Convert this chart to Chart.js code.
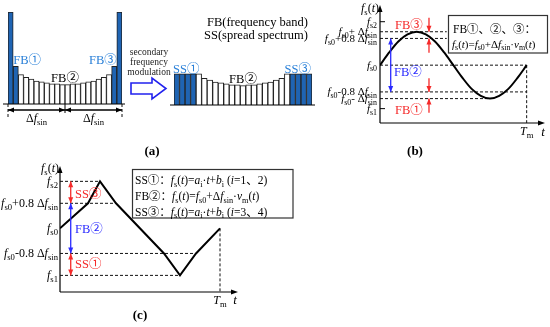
<!DOCTYPE html>
<html>
<head>
<meta charset="utf-8">
<script src="https://cdn.jsdelivr.net/npm/chart.js@4"></script>
<style>
body { margin: 0; background: #fff; }
#wrap { position: relative; width: 550px; height: 327px; overflow: hidden; background: #fff; }
canvas { position: absolute; }
.cap { position: absolute; font: bold 13px 'Liberation Serif', serif; transform: translate(-50%, -50%); }
</style>
</head>
<body>
<div id="wrap">
	<canvas id="chartA1" width="172" height="140" style="left:0;top:0"></canvas>
	<canvas id="chartA2" width="150" height="140" style="left:170px;top:0"></canvas>
	<canvas id="chartB" width="280" height="140" style="left:270px;top:0"></canvas>
	<canvas id="chartC" width="300" height="150" style="left:0;top:160px"></canvas>
	<div class="cap" style="left:152px;top:151px">(a)</div>
	<div class="cap" style="left:415px;top:151px">(b)</div>
	<div class="cap" style="left:140px;top:315px">(c)</div>
</div>
<script>
// (a) left: spectrum before secondary modulation
const fbBands = ['FB①', 'FB①', 'FB②', 'FB②', 'FB②', 'FB②', 'FB②', 'FB②', 'FB②', 'FB②', 'FB②',
	'FB②', 'FB②', 'FB②', 'FB②', 'FB②', 'FB②', 'FB②', 'FB②', 'FB②', 'FB③', 'FB③'];
const fbHeights = [100, 41, 32, 29, 27, 25, 24, 23, 22, 22, 21, 21, 22, 22, 23, 24, 25, 27, 29, 32, 41, 100];

// (a) right: spectrum after secondary modulation
const ssBands = ['SS①', 'SS①', 'SS①', 'SS①', 'FB②', 'FB②', 'FB②', 'FB②', 'FB②', 'FB②', 'FB②', 'FB②', 'FB②',
	'FB②', 'FB②', 'FB②', 'FB②', 'FB②', 'FB②', 'FB②', 'FB②', 'SS③', 'SS③', 'SS③', 'SS③'];
const ssHeights = [34, 34, 34, 34, 34, 29, 27, 25, 24, 23, 22, 22, 21, 22, 22, 23, 24, 25, 27, 29, 34, 34, 34, 34, 34];

// (b) sinusoidal modulation, t in units of Tm, f in units of Δf_sin around f_s0
const sineT = [0, 0.0625, 0.125, 0.1875, 0.25, 0.3125, 0.375, 0.4375, 0.5, 0.5625, 0.625, 0.6875, 0.75, 0.8125, 0.875, 0.9375, 1];
const sineF = [0, 0.38, 0.71, 0.92, 1, 0.92, 0.71, 0.38, 0, -0.38, -0.71, -0.92, -1, -0.92, -0.71, -0.38, 0];
const bLevels = [1.3, 1, 0.8, 0, -0.8, -1, -1.3];
const bLabels = ['f_{s2}', 'f_{s0}+ Δf_{sin}', 'f_{s0}+0.8 Δf_{sin}', 'f_{s0}', 'f_{s0}-0.8 Δf_{sin}', 'f_{s0}- Δf_{sin}', 'f_{s1}'];

// (c) piecewise-linear modulation
const triT = [0, 0.175, 0.25, 0.35, 0.65, 0.75, 0.85, 1];
const triF = [0, 0.8, 1.5, 0.8, -0.8, -1.5, -0.8, 0];
const cLevels = [1.5, 0.8, 0, -0.8, -1.5];
const cLabels = ['f_{s2}', 'f_{s0}+0.8 Δf_{sin}', 'f_{s0}', 'f_{s0}-0.8 Δf_{sin}', 'f_{s1}'];

const FAM = "'Liberation Serif', 'Noto Sans CJK SC', serif";
const BAR_BLUE = '#1f64b3';
const TXT_BLUE = '#2a80d8';
const RED = '#f52a2a';
const BLUE = '#2a2aff';

// rich text: letters italic, _{..} subscript, `..` plain
function runs(str) {
	const out = [];
	let i = 0;
	while (i < str.length) {
		if (str[i] === '_' && str[i + 1] === '{') {
			const j = str.indexOf('}', i);
			out.push({ t: str.slice(i + 2, j), sub: true, it: false });
			i = j + 1;
			continue;
		}
		if (str[i] === '`') {
			const j = str.indexOf('`', i + 1);
			out.push({ t: str.slice(i + 1, j), sub: false, it: false });
			i = j + 1;
			continue;
		}
		out.push({ t: str[i], sub: false, it: /[A-Za-z]/.test(str[i]) });
		i++;
	}
	return out;
}

function drawRich(ctx, str, x, y, size, color, align) {
	const rs = runs(str);
	const font = r => (r.it ? 'italic ' : '') + (r.sub ? size * 0.72 : size) + 'px ' + FAM;
	let w = 0;
	rs.forEach(r => { ctx.font = font(r); r.w = ctx.measureText(r.t).width; w += r.w; });
	let cx = align === 'right' ? x - w : align === 'center' ? x - w / 2 : x;
	ctx.fillStyle = color;
	ctx.textBaseline = 'alphabetic';
	rs.forEach(r => {
		ctx.font = font(r);
		ctx.fillText(r.t, cx, y + (r.sub ? size * 0.25 : 0));
		cx += r.w;
	});
}

function head(ctx, x, y, ang, len, wid) {
	ctx.beginPath();
	ctx.moveTo(x, y);
	ctx.lineTo(x - len * Math.cos(ang) + wid * Math.sin(ang), y - len * Math.sin(ang) - wid * Math.cos(ang));
	ctx.lineTo(x - len * Math.cos(ang) - wid * Math.sin(ang), y - len * Math.sin(ang) + wid * Math.cos(ang));
	ctx.closePath();
	ctx.fill();
}

function arrow(ctx, x1, y1, x2, y2, color, both) {
	const ang = Math.atan2(y2 - y1, x2 - x1);
	ctx.strokeStyle = color;
	ctx.fillStyle = color;
	ctx.lineWidth = 1.3;
	ctx.setLineDash([]);
	ctx.beginPath();
	ctx.moveTo(x1, y1);
	ctx.lineTo(x2, y2);
	ctx.stroke();
	head(ctx, x2, y2, ang, 6, 2.5);
	if (both) head(ctx, x1, y1, ang + Math.PI, 6, 2.5);
}

function dashed(ctx, x1, y1, x2, y2) {
	ctx.strokeStyle = '#111';
	ctx.lineWidth = 1;
	ctx.setLineDash([3, 2]);
	ctx.beginPath();
	ctx.moveTo(x1, y1);
	ctx.lineTo(x2, y2);
	ctx.stroke();
	ctx.setLineDash([]);
}

function axes(ctx, chart) {
	const { x, y } = chart.scales;
	const x0 = x.getPixelForValue(0);
	const yb = y.getPixelForValue(y.min);
	const a = chart.chartArea;
	ctx.strokeStyle = '#000';
	ctx.fillStyle = '#000';
	ctx.lineWidth = 1.2;
	ctx.beginPath();
	ctx.moveTo(x0, yb);
	ctx.lineTo(x0, a.top + 4);
	ctx.moveTo(x0, yb);
	ctx.lineTo(a.right - 4, yb);
	ctx.stroke();
	head(ctx, x0, a.top, -Math.PI / 2, 7, 2.5);
	head(ctx, a.right, yb, 0, 7, 2.5);
	return { x0, yb };
}

function barColors(bands) {
	return bands.map(b => b === 'FB②' ? '#ffffff' : BAR_BLUE);
}

function barConfig(bands, heights, pad, plugin) {
	return {
		type: 'bar',
		data: {
			labels: bands,
			datasets: [{
				data: heights,
				backgroundColor: barColors(bands),
				borderColor: '#222',
				borderWidth: 1,
				barPercentage: 1,
				categoryPercentage: 1
			}]
		},
		options: {
			responsive: false,
			animation: false,
			layout: { padding: pad },
			plugins: { legend: { display: false }, tooltip: { enabled: false } },
			scales: {
				x: { display: false },
				y: { display: false, min: 0, max: 100 }
			}
		},
		plugins: [plugin]
	};
}

// (a) left
new Chart(document.getElementById('chartA1'), barConfig(fbBands, fbHeights,
	{ left: 8, right: 50, top: 12, bottom: 36 },
	{
		id: 'a1deco',
		afterDraw(chart) {
			const ctx = chart.ctx;
			const a = chart.chartArea;
			const yb = chart.scales.y.getPixelForValue(0);
			const xm = (a.left + a.right) / 2;
			const bw = (a.right - a.left) / fbHeights.length;
			ctx.save();
			ctx.strokeStyle = '#000';
			ctx.lineWidth = 1.2;
			ctx.beginPath();
			ctx.moveTo(3, yb);
			ctx.lineTo(a.right + 3, yb);
			ctx.stroke();
			dashed(ctx, a.left, yb, a.left, yb + 15);
			dashed(ctx, a.right, yb, a.right, yb + 15);
			ctx.strokeStyle = '#000';
			ctx.beginPath();
			ctx.moveTo(xm, yb);
			ctx.lineTo(xm, yb + 9);
			ctx.stroke();
			arrow(ctx, a.left, yb + 6, xm, yb + 6, '#000', true);
			arrow(ctx, xm, yb + 6, a.right, yb + 6, '#000', true);
			drawRich(ctx, 'Δf_{sin}', (a.left + xm) / 2, yb + 18, 12, '#000', 'center');
			drawRich(ctx, 'Δf_{sin}', (xm + a.right) / 2, yb + 18, 12, '#000', 'center');
			// band labels
			const y = chart.scales.y;
			drawRich(ctx, '`FB①`', a.left + bw, y.getPixelForValue(41) - 2, 12.5, TXT_BLUE, 'left');
			drawRich(ctx, '`FB③`', a.right - bw, y.getPixelForValue(41) - 2, 12.5, TXT_BLUE, 'right');
			drawRich(ctx, '`FB②`', xm, y.getPixelForValue(21) - 3, 12.5, '#000', 'center');
			// block arrow
			ctx.strokeStyle = '#2222ee';
			ctx.fillStyle = '#fff';
			ctx.lineWidth = 1.6;
			ctx.beginPath();
			ctx.moveTo(131, 83);
			ctx.lineTo(152, 83);
			ctx.lineTo(152, 78);
			ctx.lineTo(166, 88.5);
			ctx.lineTo(152, 99);
			ctx.lineTo(152, 94);
			ctx.lineTo(131, 94);
			ctx.closePath();
			ctx.fill();
			ctx.stroke();
			ctx.fillStyle = '#222';
			ctx.font = '9.5px ' + FAM;
			ctx.textAlign = 'center';
			ctx.textBaseline = 'middle';
			ctx.fillText('secondary', 149, 52);
			ctx.fillText('frequency', 149, 62);
			ctx.fillText('modulation', 149, 72);
			ctx.restore();
		}
	}));

// (a) right
new Chart(document.getElementById('chartA2'), barConfig(ssBands, ssHeights,
	{ left: 4, right: 8, top: 13, bottom: 35 },
	{
		id: 'a2deco',
		afterDraw(chart) {
			const ctx = chart.ctx;
			const a = chart.chartArea;
			const y = chart.scales.y;
			const yb = y.getPixelForValue(0);
			const xm = (a.left + a.right) / 2;
			ctx.save();
			ctx.strokeStyle = '#000';
			ctx.lineWidth = 1.2;
			ctx.beginPath();
			ctx.moveTo(a.left - 6, yb);
			ctx.lineTo(a.right + 3, yb);
			ctx.stroke();
			drawRich(ctx, '`SS①`', a.left - 1, y.getPixelForValue(34) - 1, 12.5, TXT_BLUE, 'left');
			drawRich(ctx, '`SS③`', a.right - 1, y.getPixelForValue(34) - 1, 12.5, TXT_BLUE, 'right');
			drawRich(ctx, '`FB②`', xm, y.getPixelForValue(21) - 3, 12.5, '#000', 'center');
			drawRich(ctx, '`FB(frequency band)`', 37, 26, 12.5, '#000', 'left');
			drawRich(ctx, '`SS(spread spectrum)`', 34, 39, 12.5, '#000', 'left');
			ctx.restore();
		}
	}));

function lineConfig(xs, ys, tension, pad, xMax, yMin, yMax, plugin) {
	return {
		type: 'line',
		data: {
			datasets: [{
				data: xs.map((t, i) => ({ x: t, y: ys[i] })),
				borderColor: '#000',
				borderWidth: 2,
				pointRadius: 0,
				tension: tension,
				cubicInterpolationMode: tension ? 'monotone' : 'default',
				fill: false
			}]
		},
		options: {
			responsive: false,
			animation: false,
			layout: { padding: pad },
			plugins: { legend: { display: false }, tooltip: { enabled: false } },
			scales: {
				x: { type: 'linear', display: false, min: 0, max: xMax },
				y: { display: false, min: yMin, max: yMax }
			}
		},
		plugins: [plugin]
	};
}

// (b)
new Chart(document.getElementById('chartB'), lineConfig(sineT, sineF, 0.4,
	{ left: 110, right: 5, top: 5, bottom: 17 }, 1.125, -1.73, 1.8,
	{
		id: 'bdeco',
		beforeDatasetsDraw(chart) {
			const ctx = chart.ctx;
			const { x, y } = chart.scales;
			const guideEnd = [null, 0.455, 0.455, 1, 1, 0.75, null];
			ctx.save();
			const { x0, yb } = axes(ctx, chart);
			bLevels.forEach((v, i) => {
				const py = y.getPixelForValue(v);
				if (guideEnd[i] === null) {
					ctx.strokeStyle = '#000';
					ctx.lineWidth = 1;
					ctx.beginPath();
					ctx.moveTo(x0, py);
					ctx.lineTo(x0 + 5, py);
					ctx.stroke();
				} else {
					dashed(ctx, x0, py, x.getPixelForValue(guideEnd[i]), py);
				}
				drawRich(ctx, bLabels[i], x0 - 3, py + 3.5, 11, '#000', 'right');
			});
			dashed(ctx, x.getPixelForValue(1), y.getPixelForValue(0), x.getPixelForValue(1), yb);
			drawRich(ctx, 'f_{s}(t)', x0 - 1, 12, 12, '#000', 'right');
			drawRich(ctx, 'T_{m}', x.getPixelForValue(1), yb + 12, 12, '#000', 'center');
			drawRich(ctx, 't', chart.chartArea.right - 2, yb + 13, 13, '#000', 'center');
			ctx.restore();
		},
		afterDraw(chart) {
			const ctx = chart.ctx;
			const { x, y } = chart.scales;
			ctx.save();
			const xa = x.getPixelForValue(0.334);
			arrow(ctx, xa, y.getPixelForValue(1.42), xa, y.getPixelForValue(1), RED);
			arrow(ctx, xa, y.getPixelForValue(0.37), xa, y.getPixelForValue(0.8), RED);
			arrow(ctx, xa, y.getPixelForValue(-0.39), xa, y.getPixelForValue(-0.8), RED);
			arrow(ctx, xa, y.getPixelForValue(-1.42), xa, y.getPixelForValue(-1), RED);
			const xb = x.getPixelForValue(0.073);
			arrow(ctx, xb, y.getPixelForValue(0.8), xb, y.getPixelForValue(-0.8), BLUE, true);
			drawRich(ctx, '`FB③`', 125, 28.5, 12.5, RED, 'left');
			drawRich(ctx, '`FB②`', 124, 76, 12.5, BLUE, 'left');
			drawRich(ctx, '`FB①`', 125, 113.5, 12.5, RED, 'left');
			// formula box
			ctx.fillStyle = '#fff';
			ctx.fillRect(178, 15, 100, 38);
			ctx.strokeStyle = '#333';
			ctx.lineWidth = 1.2;
			ctx.strokeRect(178.5, 15.5, 99, 37.5);
			drawRich(ctx, '`FB①、②、③：`', 183, 33, 11.5, '#000', 'left');
			drawRich(ctx, 'f_{s}(t)=f_{s0}+Δf_{sin}·v_{m}(t)', 182, 47.5, 11, '#000', 'left');
			ctx.restore();
		}
	}));

// (c)
new Chart(document.getElementById('chartC'), lineConfig(triT, triF, 0,
	{ left: 60, right: 62, top: 6, bottom: 18 }, 1.1125, -2.03, 1.99,
	{
		id: 'cdeco',
		beforeDatasetsDraw(chart) {
			const ctx = chart.ctx;
			const { x, y } = chart.scales;
			const guideEnd = [0.25, 0.35, null, 0.85, 0.75];
			ctx.save();
			const { x0, yb } = axes(ctx, chart);
			cLevels.forEach((v, i) => {
				const py = y.getPixelForValue(v);
				if (guideEnd[i] !== null) dashed(ctx, x0, py, x.getPixelForValue(guideEnd[i]), py);
				drawRich(ctx, cLabels[i], x0 - 2, py + 4, 12, '#000', 'right');
			});
			dashed(ctx, x.getPixelForValue(1), y.getPixelForValue(0), x.getPixelForValue(1), yb);
			drawRich(ctx, 'f_{s}(t)', x0 - 1, 12, 12, '#000', 'right');
			drawRich(ctx, 'T_{m}', x.getPixelForValue(1), yb + 12, 12, '#000', 'center');
			drawRich(ctx, 't', chart.chartArea.right - 3, yb + 12, 13, '#000', 'center');
			ctx.restore();
		},
		afterDraw(chart) {
			const ctx = chart.ctx;
			const { x, y } = chart.scales;
			ctx.save();
			const xa = x.getPixelForValue(0.067);
			arrow(ctx, xa, y.getPixelForValue(1.5), xa, y.getPixelForValue(0.8), RED, true);
			arrow(ctx, xa, y.getPixelForValue(0.8), xa, y.getPixelForValue(-0.8), BLUE, true);
			arrow(ctx, xa, y.getPixelForValue(-0.8), xa, y.getPixelForValue(-1.5), RED, true);
			drawRich(ctx, '`SS③`', 75, 37.5, 12.5, RED, 'left');
			drawRich(ctx, '`FB②`', 75, 72.5, 12.5, BLUE, 'left');
			drawRich(ctx, '`SS①`', 75, 107.5, 12.5, RED, 'left');
			// formula box
			ctx.fillStyle = '#fff';
			ctx.fillRect(132, 9, 161, 49);
			ctx.strokeStyle = '#333';
			ctx.lineWidth = 1.2;
			ctx.strokeRect(132.5, 9.5, 160.5, 48.5);
			drawRich(ctx, '`SS①：`f_{s}(t)=a_{i}·t+b_{i} (i=1、2)', 135, 24, 11.5, '#000', 'left');
			drawRich(ctx, '`FB②：`f_{s}(t)=f_{s0}+Δf_{sin}·v_{m}(t)', 135, 40, 11.5, '#000', 'left');
			drawRich(ctx, '`SS③：`f_{s}(t)=a_{i}·t+b_{i} (i=3、4)', 135, 55.5, 11.5, '#000', 'left');
			ctx.restore();
		}
	}));
</script>
</body>
</html>
